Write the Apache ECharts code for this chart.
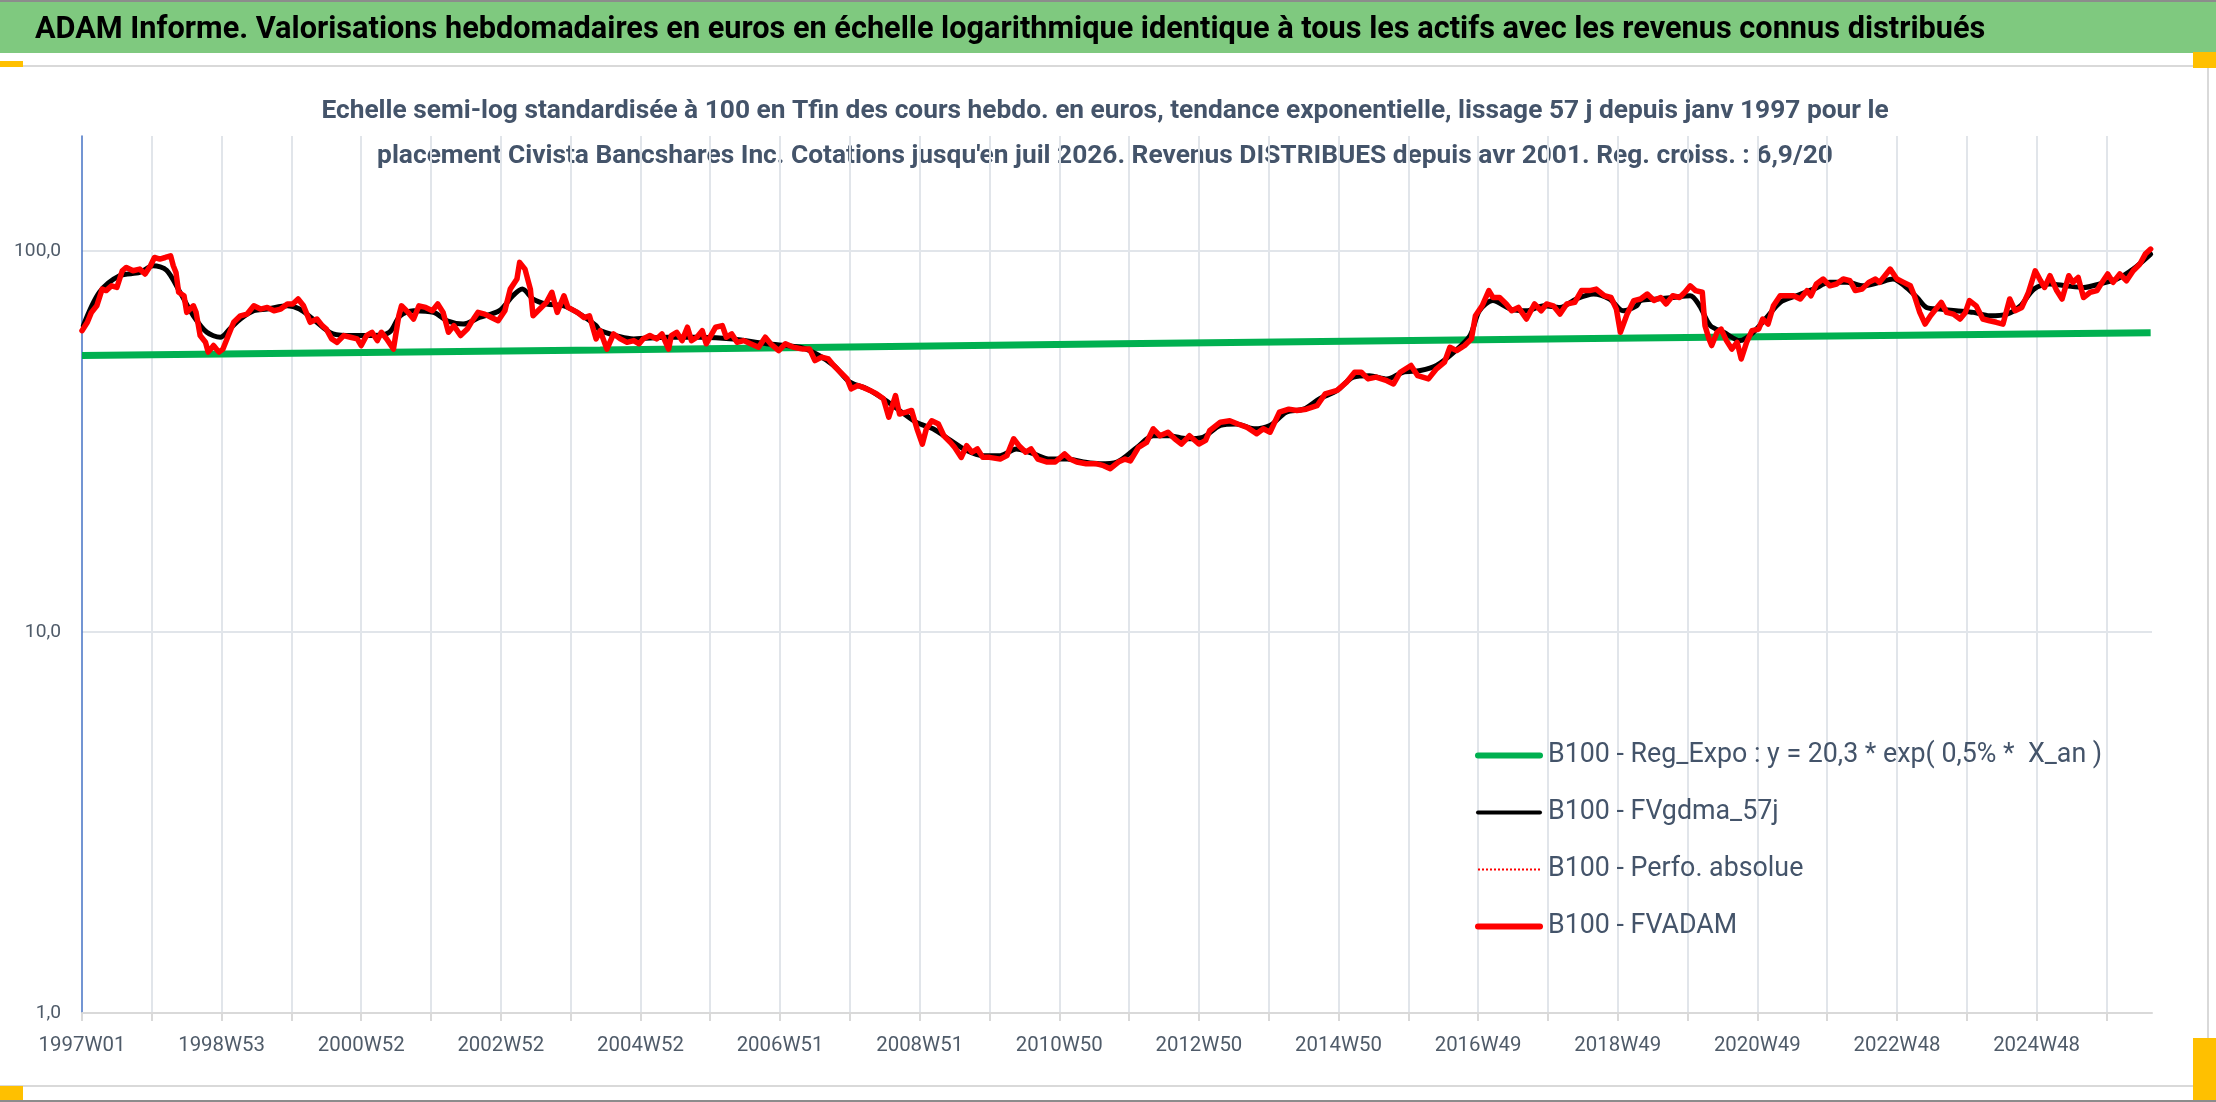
<!DOCTYPE html>
<html>
<head>
<meta charset="utf-8">
<script src="https://cdn.jsdelivr.net/npm/echarts@6/dist/echarts.min.js"></script>
<style>
  html, body { margin: 0; padding: 0; background: #fff; }
  #chart { width: 2216px; height: 1102px; }
</style>
</head>
<body>
<div id="chart"></div>
<script>
// libellés
var headerText = "ADAM Informe. Valorisations hebdomadaires en euros en échelle logarithmique identique à tous les actifs avec les revenus connus distribués";
var subLine1 = "Echelle semi-log standardisée à 100 en Tfin des cours hebdo. en euros, tendance exponentielle, lissage 57 j depuis janv 1997 pour le";
var subLine2 = "placement Civista Bancshares Inc. Cotations jusqu'en juil 2026. Revenus DISTRIBUES depuis avr 2001. Reg. croiss. : 6,9/20";
var seriesNames = [
    "B100 - Reg_Expo : y = 20,3 * exp( 0,5% *  X_an )",
    "B100 - FVgdma_57j",
    "B100 - Perfo. absolue",
    "B100 - FVADAM"
];
// un libellé toutes les 104 semaines
var xTickLabels = ["1997W01","1998W53","2000W52","2002W52","2004W52","2006W51","2008W51",
    "2010W50","2012W50","2014W50","2016W49","2018W49","2020W49","2022W48","2024W48"];
var yTickValues = [1, 10, 100];
var weekCount = 1542; // 1997W01 -> 2026W29

// [semaine, valeur]
var regExpo = [[0,53.1],[386,54.9],[772,57.0],[1159,59.0],[1541,60.9]];

var fvgdma = [[1,63.6],[13,77.8],[28,86.0],[43,87.7],[53,91.3],[63,88.9],[73,77.8],[83,67.5],[93,61.1],
    [103,59.3],[110,62.3],[118,66.2],[128,69.6],[138,70.3],[153,71.7],[162,70.3],[172,66.2],[187,60.5],
    [202,59.9],[217,59.9],[229,61.1],[237,67.5],[247,69.6],[262,68.9],[272,65.5],[284,64.2],[296,66.8],
    [311,69.6],[321,76.2],[328,79.3],[336,74.7],[346,72.5],[359,71.7],[371,68.2],[383,63.6],[386,61.7],
    [411,58.7],[436,59.3],[460,59.3],[485,58.7],[510,57.0],[535,55.8],[547,53.6],[560,50.0],[572,45.2],
    [585,43.4],[597,40.9],[609,38.1],[622,35.4],[634,34.1],[647,31.8],[659,29.9],[671,29.0],[684,29.0],
    [696,30.2],[709,29.3],[721,28.4],[734,28.4],[746,27.9],[758,27.6],[771,27.9],[786,30.5],[798,32.7],
    [810,32.7],[823,32.1],[835,32.4],[848,34.8],[860,35.1],[873,34.1],[885,34.8],[897,37.7],[910,38.4],
    [922,40.9],[935,43.0],[947,46.6],[959,47.0],[972,46.1],[984,48.0],[997,48.5],[1009,50.0],[1022,54.2],
    [1034,59.9],[1041,69.6],[1051,74.0],[1064,70.3],[1076,69.6],[1089,71.7],[1101,71.0],[1113,74.7],
    [1126,77.0],[1138,74.7],[1148,69.6],[1158,71.7],[1161,74.0],[1173,74.7],[1185,75.4],[1198,76.2],
    [1205,71.7],[1213,63.6],[1223,61.1],[1235,58.1],[1245,61.1],[1255,66.8],[1265,73.2],[1277,76.2],
    [1290,79.3],[1302,82.6],[1315,82.6],[1327,80.9],[1339,82.6],[1349,84.3],[1359,80.1],[1367,75.4],
    [1374,71.0],[1384,70.3],[1396,69.6],[1409,68.9],[1421,67.5],[1434,68.2],[1444,71.7],[1454,79.3],
    [1466,81.8],[1478,80.9],[1491,80.1],[1503,81.8],[1516,84.3],[1528,89.5],[1541,98.0]];

var fvadam = [[0,61.7],[1,62.3],[4,64.9],[7,68.9],[11,71.7],[15,79.3],[18,78.6],[22,80.9],[26,80.1],
    [30,88.6],[33,90.4],[38,88.6],[43,89.5],[47,86.9],[51,91.3],[54,96.0],[58,95.1],[62,96.0],[66,97.0],
    [68,91.3],[70,87.7],[72,77.8],[76,76.2],[78,68.9],[83,71.7],[85,68.9],[88,59.9],[92,57.5],[94,54.2],
    [98,56.4],[102,54.2],[105,55.2],[109,59.9],[113,64.9],[118,67.5],[123,68.2],[128,71.7],[133,70.3],
    [138,71.0],[143,69.6],[148,70.3],[153,72.5],[157,72.5],[161,74.7],[165,71.7],[170,64.9],[175,66.2],
    [179,63.6],[182,62.3],[186,58.7],[190,57.5],[195,59.9],[200,59.3],[205,58.7],[208,56.4],[212,59.9],
    [216,61.1],[220,58.1],[223,61.1],[227,58.7],[232,55.2],[236,67.5],[238,71.7],[243,68.9],[247,66.2],
    [251,71.7],[256,71.0],[261,69.6],[265,72.5],[269,68.9],[273,61.1],[277,63.6],[282,59.9],[287,62.3],
    [290,64.9],[295,68.9],[300,68.2],[305,66.8],[310,65.5],[315,69.6],[319,79.3],[324,84.3],[326,93.2],
    [330,89.5],[334,79.3],[336,67.5],[341,70.3],[346,73.2],[350,77.8],[354,68.9],[359,76.2],[362,71.0],
    [369,68.9],[374,66.8],[378,67.5],[383,58.7],[386,61.7],[391,55.2],[396,60.5],[401,58.7],[406,57.5],
    [411,58.1],[415,57.0],[418,58.7],[423,59.9],[428,58.7],[432,60.5],[437,55.2],[439,59.9],[443,61.1],
    [447,58.1],[451,63.0],[454,58.1],[458,59.3],[462,61.7],[465,57.0],[472,63.0],[477,63.6],[480,59.3],
    [484,60.5],[488,57.5],[493,58.1],[498,57.0],[504,55.8],[509,59.3],[513,57.0],[519,54.7],[524,57.0],
    [530,55.8],[537,55.2],[542,55.2],[546,51.5],[551,52.6],[556,52.0],[560,50.0],[565,48.0],[570,46.1],
    [573,43.4],[578,44.3],[582,43.8],[587,43.0],[592,42.1],[597,40.9],[601,36.6],[606,41.7],[609,37.3],
    [614,37.7],[618,38.1],[622,34.1],[626,31.1],[629,34.1],[633,35.8],[638,35.1],[642,32.7],[647,31.4],
    [650,30.5],[655,28.7],[659,30.8],[663,29.6],[667,30.2],[671,28.7],[676,28.7],[684,28.4],[689,29.0],
    [694,32.1],[698,30.8],[703,29.6],[707,30.2],[712,28.4],[719,27.9],[725,27.9],[732,29.3],[736,28.4],
    [741,27.9],[748,27.6],[756,27.6],[761,27.3],[766,26.8],[772,27.9],[777,28.4],[781,28.1],[787,30.5],
    [793,31.4],[798,34.1],[803,32.7],[809,33.4],[814,32.1],[819,31.1],[825,32.7],[832,31.1],[837,31.8],
    [840,33.7],[848,35.5],[855,35.8],[861,35.1],[868,34.4],[875,33.1],[880,34.1],[885,33.4],[892,37.7],
    [899,38.4],[905,38.1],[912,38.4],[920,39.2],[926,42.1],[935,43.0],[942,45.2],[948,48.0],[953,48.0],
    [958,46.1],[964,46.6],[972,45.6],[977,44.7],[982,48.0],[990,50.0],[995,47.0],[1003,46.1],[1009,49.0],
    [1015,51.0],[1019,55.8],[1024,54.7],[1030,56.4],[1035,58.7],[1038,67.5],[1043,71.7],[1048,78.6],
    [1051,75.4],[1056,75.4],[1061,72.5],[1065,69.6],[1070,71.0],[1076,66.2],[1082,72.5],[1087,69.6],
    [1091,72.5],[1096,71.7],[1101,68.2],[1106,72.5],[1112,73.2],[1117,78.6],[1123,78.6],[1128,79.3],
    [1134,76.2],[1139,75.4],[1143,70.3],[1146,61.1],[1151,68.2],[1156,74.0],[1161,74.7],[1166,77.0],
    [1171,74.0],[1176,75.4],[1180,72.5],[1185,76.2],[1190,75.4],[1194,77.8],[1198,80.9],[1202,78.6],
    [1207,77.8],[1209,63.6],[1212,58.7],[1214,56.4],[1218,61.1],[1221,62.3],[1225,58.1],[1229,55.2],
    [1233,57.5],[1236,52.0],[1240,57.5],[1244,61.7],[1249,62.3],[1252,66.2],[1256,64.2],[1260,71.7],
    [1265,76.2],[1270,76.2],[1275,76.2],[1280,74.7],[1285,78.6],[1288,76.2],[1292,81.8],[1297,84.3],
    [1302,80.9],[1307,81.8],[1312,84.3],[1317,83.4],[1321,78.6],[1326,79.3],[1331,82.6],[1336,84.3],
    [1339,82.6],[1343,86.0],[1347,89.5],[1352,84.3],[1357,82.6],[1362,80.9],[1365,76.2],[1369,68.9],
    [1373,64.2],[1377,67.5],[1380,69.6],[1385,73.2],[1389,68.9],[1394,68.2],[1399,66.2],[1403,68.9],
    [1406,74.0],[1411,71.7],[1416,66.2],[1421,65.5],[1426,64.9],[1431,64.2],[1436,74.7],[1440,69.6],
    [1445,71.0],[1450,77.8],[1455,88.6],[1459,83.4],[1462,80.1],[1466,86.0],[1471,78.6],[1475,74.7],
    [1480,86.0],[1483,82.6],[1487,85.1],[1491,75.4],[1496,77.8],[1501,78.6],[1504,81.8],[1509,86.9],
    [1513,82.6],[1518,86.9],[1523,83.4],[1528,88.6],[1533,92.3],[1537,98.0],[1541,101.0]];

var FONT = "'Liberation Sans Narrow', 'Roboto', 'Liberation Sans', sans-serif";
var TXT = '#44546a';

// taille de police pour qu'un texte occupe une largeur donnée
var measureCtx = document.createElement('canvas').getContext('2d');
function fitSize(text, weight, target) {
    measureCtx.font = weight + ' 100px ' + FONT;
    return Math.round(1000 * target / measureCtx.measureText(text).width) / 10;
}
var headerSize = fitSize(headerText, 'bold', 1953);
var subSize = fitSize(subLine1, 'bold', 1567);
var legendSize = fitSize(seriesNames[0], 'normal', 555);
var xLabSize = fitSize('1997W01', 'normal', 87);
var yLabSize = fitSize('100,0', 'normal', 47);

// pas de rond dans les icônes de légende
var noMarker = { color: 'rgba(0,0,0,0)', borderWidth: 0, opacity: 0 };

var chart = echarts.init(document.getElementById('chart'));

var option = {
    backgroundColor: '#ffffff',
    animation: false,
    textStyle: { fontFamily: FONT },
    graphic: [
        { type: 'rect', shape: { x: 0, y: 0, width: 2216, height: 2 }, style: { fill: '#8c8c8c' } },
        { type: 'rect', shape: { x: 0, y: 2, width: 2216, height: 51 }, style: { fill: '#7fc97f' } },
        { type: 'text', x: 35, y: 30, style: { text: headerText, fill: '#000', font: 'bold ' + headerSize + 'px ' + FONT, textVerticalAlign: 'middle' } },
        { type: 'rect', shape: { x: -2, y: 66, width: 2210, height: 1020 }, style: { fill: null, stroke: '#d9d9d9', lineWidth: 2 } },
        { type: 'rect', shape: { x: 0, y: 1100, width: 2216, height: 2 }, style: { fill: '#8c8c8c' } },
        { type: 'rect', shape: { x: 0, y: 61, width: 23, height: 6 }, style: { fill: '#ffc000' } },
        { type: 'rect', shape: { x: 2193, y: 52, width: 23, height: 16 }, style: { fill: '#ffc000' } },
        { type: 'rect', shape: { x: 0, y: 1086, width: 23, height: 14 }, style: { fill: '#ffc000' } },
        { type: 'rect', shape: { x: 2193, y: 1038, width: 23, height: 62 }, style: { fill: '#ffc000' } },
        { type: 'text', x: 1105, y: 111, style: { text: subLine1, fill: TXT, font: 'bold ' + subSize + 'px ' + FONT, textAlign: 'center', textVerticalAlign: 'middle' } },
        { type: 'text', x: 1105, y: 156, style: { text: subLine2, fill: TXT, font: 'bold ' + subSize + 'px ' + FONT, textAlign: 'center', textVerticalAlign: 'middle' } }
    ],
    grid: { left: 82, right: 64, top: 136, bottom: 89, containLabel: false, outerBoundsMode: 'none' },
    legend: {
        left: 1470, top: 737, orient: 'vertical',
        itemWidth: 62, itemHeight: 20, itemGap: 30,
        itemStyle: noMarker,
        textStyle: { fontSize: legendSize, color: TXT, fontFamily: FONT, lineHeight: 20, padding: [0, 0, 0, 3] },
        data: [
            { name: seriesNames[0], itemStyle: noMarker, lineStyle: { color: '#00b050', width: 6, cap: 'round' } },
            { name: seriesNames[1], itemStyle: noMarker, lineStyle: { color: '#000000', width: 4, cap: 'round' } },
            { name: seriesNames[2], itemStyle: noMarker, lineStyle: { color: '#ff0000', width: 2, type: 'dotted' } },
            { name: seriesNames[3], itemStyle: noMarker, lineStyle: { color: '#ff0000', width: 6, cap: 'round' } }
        ]
    },
    xAxis: {
        type: 'value', min: 0, max: weekCount, interval: 52,
        axisLine: { show: true, onZero: false, lineStyle: { color: '#d9d9d9', width: 2 } },
        axisTick: { show: true, length: 8, lineStyle: { color: '#d9d9d9', width: 2 } },
        axisLabel: {
            color: '#4f5b69', fontSize: xLabSize, fontFamily: FONT, margin: 35 - xLabSize / 2 - 2,
            showMaxLabel: false,
            formatter: function (v) {
                return v % 104 === 0 ? (xTickLabels[v / 104] || '') : '';
            }
        },
        splitLine: { show: true, showMinLine: false, showMaxLine: false, lineStyle: { color: '#e1e5ea', width: 2 } }
    },
    yAxis: {
        type: 'log', logBase: 10, min: 1, max: 200,
        axisLine: { show: true, lineStyle: { color: '#4472c4', width: 1.5 } },
        axisTick: { show: false },
        axisLabel: {
            color: '#4f5b69', fontSize: yLabSize, fontFamily: FONT, margin: 21,
            formatter: function (v) {
                var r = Math.round(v * 1000) / 1000;
                return yTickValues.indexOf(r) >= 0 ? r.toFixed(1).replace('.', ',') : '';
            }
        },
        splitLine: { show: true, showMinLine: false, showMaxLine: false, lineStyle: { color: '#e1e5ea', width: 2 } }
    },
    series: [
        {
            name: seriesNames[0], type: 'line', data: regExpo, symbol: 'none', silent: true,
            lineStyle: { color: '#00b050', width: 7 }, itemStyle: { color: '#00b050' }
        },
        {
            name: seriesNames[1], type: 'line', data: fvgdma, symbol: 'none', silent: true, smooth: 0.3,
            lineStyle: { color: '#000000', width: 5, join: 'round', cap: 'round' }, itemStyle: { color: '#000000' }
        },
        {
            name: seriesNames[2], type: 'line', data: fvadam, symbol: 'none', silent: true,
            lineStyle: { color: '#ff0000', width: 2, type: 'dotted' }, itemStyle: { color: '#ff0000' }
        },
        {
            name: seriesNames[3], type: 'line', data: fvadam, symbol: 'none', silent: true,
            lineStyle: { color: '#ff0000', width: 5.5, join: 'round', cap: 'round' }, itemStyle: { color: '#ff0000' }
        }
    ]
};
chart.setOption(option);
</script>
</body>
</html>
